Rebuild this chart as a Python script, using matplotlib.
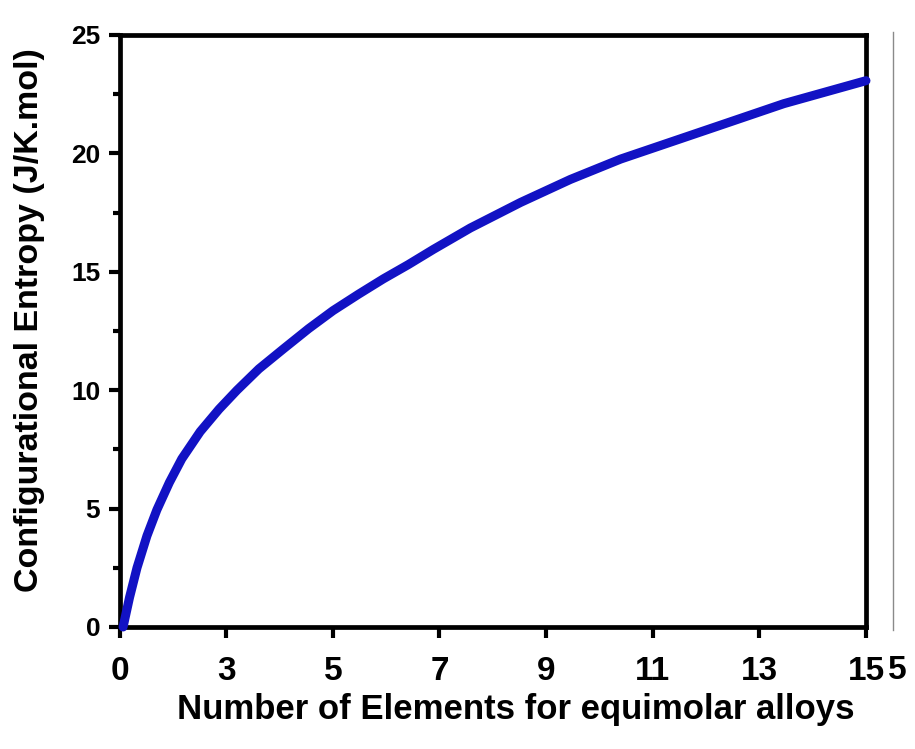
import numpy as np
import matplotlib.pyplot as plt
from matplotlib.lines import Line2D

plt.rcParams['font.family'] = ['Liberation Sans', 'DejaVu Sans']
plt.rcParams['font.weight'] = 'bold'

# ============== data ==============
# x is in axis units (0..15 spans the frame), y in J/K.mol
n_elem = [0.07, 0.2, 0.35, 0.55, 0.75, 1.0, 1.25, 1.62, 2.0, 2.36, 2.8,
          3.29, 3.8, 4.29, 4.8, 5.3, 5.8, 6.31, 7.05, 8.06, 9.06, 10.07,
          11.08, 12.02, 13.35, 15.0]
s_conf = [0.0, 1.25, 2.5, 3.85, 4.95, 6.1, 7.1, 8.25, 9.2, 10.0, 10.9,
          11.74, 12.6, 13.36, 14.05, 14.7, 15.3, 15.95, 16.85, 17.93, 18.9,
          19.76, 20.48, 21.15, 22.1, 23.07]

x_tick_labels = ['0', '3', '5', '7', '9', '11', '13', '15']
y_ticks = [0, 5, 10, 15, 20, 25]

# ============== figure ==============
fig = plt.figure(figsize=(9.15, 7.49), dpi=100)
ax = fig.add_axes([0.1307, 0.1629, 0.8157, 0.7904])

ax.plot(n_elem, s_conf, color='#1212c4', lw=6.5, solid_capstyle='round',
        solid_joinstyle='round', clip_on=False, zorder=3)

ax.set_xlim(0, 15)
ax.set_ylim(0, 25)

ax.set_xticks(np.linspace(0, 15, len(x_tick_labels)))
ax.set_xticklabels(x_tick_labels)
ax.set_yticks(y_ticks)
ax.set_yticks(np.arange(2.5, 25, 5), minor=True)

for sp in ax.spines.values():
    sp.set_linewidth(3.4)

ax.tick_params(axis='both', which='major', direction='out', length=8,
               width=3, top=False, right=False)
ax.tick_params(axis='y', which='minor', direction='out', length=5, width=3)
ax.tick_params(axis='x', labelsize=24, pad=13)
ax.tick_params(axis='y', labelsize=19, pad=6)
for lab in ax.get_xticklabels() + ax.get_yticklabels():
    lab.set_fontweight('bold')

ax.set_xlabel('Number of Elements for equimolar alloys', fontsize=25,
              fontweight='bold')
ax.xaxis.set_label_coords(0.531, -0.112)
ax.set_ylabel('Configurational Entropy (J/K.mol)', fontsize=24.5,
              fontweight='bold')
ax.yaxis.set_label_coords(-0.100, 0.519)

# stray "5" after the last tick label and the thin line at the right edge
fig.text(0.9805, 0.1255, '5', fontsize=24, fontweight='bold',
         ha='center', va='top')
fig.add_artist(Line2D([0.976, 0.976], [0.159, 0.957], color='#8a8a8a', lw=1))

fig.savefig('out.png', dpi=100, facecolor='white')
